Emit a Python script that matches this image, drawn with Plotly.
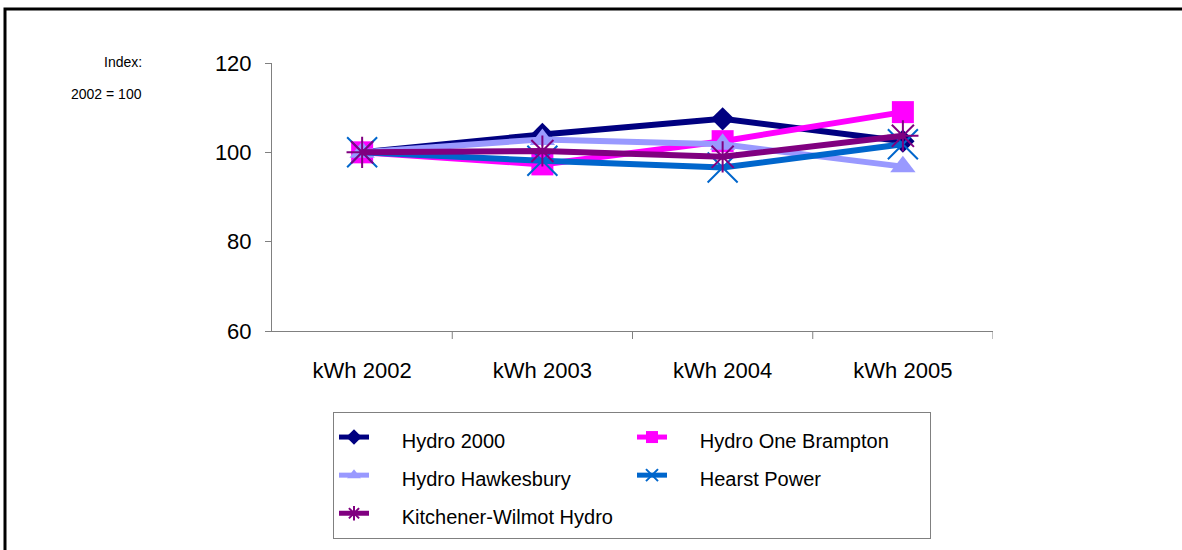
import plotly.graph_objects as go

# Index values per distributor, 2002 = 100
categories = ["kWh 2002", "kWh 2003", "kWh 2004", "kWh 2005"]
hydro_2000 = [100, 104.0, 107.5, 102.5]
hydro_one_brampton = [100, 97.3, 102.5, 109.0]
hydro_hawkesbury = [100, 102.9, 101.8, 96.8]
hearst_power = [100, 98.1, 96.6, 101.8]
kitchener_wilmot = [100, 100.3, 99.0, 103.7]
y_ticks = [60, 80, 100, 120]

series = [
    ("Hydro 2000", hydro_2000, "#000080", "diamond", 18, 0),
    ("Hydro One Brampton", hydro_one_brampton, "#FF00FF", "square", 22, 0),
    ("Hydro Hawkesbury", hydro_hawkesbury, "#9999FF", "triangle-up", 22, 0),
    ("Hearst Power", hearst_power, "#0066CC", "x-thin-open", 30, 2),
    ("Kitchener-Wilmot Hydro", kitchener_wilmot, "#800080", "asterisk-open", 26, 2),
]

fig = go.Figure()
for name, vals, color, symbol, size, lw in series:
    marker = dict(symbol=symbol, size=size, color=color)
    if lw:
        marker["line"] = dict(color=color, width=lw)
    fig.add_trace(go.Scatter(
        x=categories, y=vals, mode="lines+markers",
        name="<span style='font-size:20px'>\u00a0\u00a0\u00a0\u00a0\u00a0%s</span>" % name,
        line=dict(color=color, width=6), marker=marker,
    ))

W, H = 1182, 550
ml, mr, mt, mb = 272, 189, 63, 219
pw, ph = W - ml - mr, H - mt - mb


def px_x(p):
    return (p - ml) / pw


def px_y(p):
    return (H - mb - p) / ph


fig.update_layout(
    width=W, height=H,
    margin=dict(l=ml, r=mr, t=mt, b=mb),
    paper_bgcolor="white", plot_bgcolor="white",
    font=dict(family="Liberation Sans, Arial, sans-serif", color="black"),
    showlegend=True,
    legend=dict(
        orientation="h", xref="container", yref="container",
        x=333 / W, y=1 - 412 / H, xanchor="left", yanchor="top",
        bordercolor="#808080", borderwidth=1, bgcolor="white",
        font=dict(size=27), entrywidth=253, entrywidthmode="pixels",
        itemsizing="constant",
    ),
    xaxis=dict(
        range=[-0.5, 3.5], showgrid=False, zeroline=False, automargin=False,
        showline=True, linecolor="#808080", linewidth=1,
        ticks="outside", ticklen=0, tickfont=dict(size=22),
        ticklabelstandoff=20,
    ),
    yaxis=dict(
        range=[60, 120], tickvals=y_ticks, showgrid=False, zeroline=False,
        automargin=False,
        showline=True, linecolor="#808080", linewidth=1,
        ticks="outside", ticklen=6, tickcolor="#808080",
        tickfont=dict(size=22), ticklabelstandoff=9,
    ),
)

# category separators on the x axis
for b in [0.5, 1.5, 2.5, 3.5]:
    fig.add_shape(type="line", xref="x", yref="paper", x0=b, x1=b, y0=0, y1=-8 / ph,
                  line=dict(color="#808080", width=1))

# outer chart frame: one open path along the top and left edges
frame_path = "M {r},{t} L {l},{t} L {l},{b}".format(
    l=px_x(5), r=px_x(1200), t=px_y(9), b=px_y(600))
fig.add_shape(type="path", xref="paper", yref="paper", path=frame_path,
              line=dict(color="black", width=3))

fig.add_annotation(text="Index:", xref="paper", yref="paper", x=px_x(144), y=px_y(62),
                   xanchor="right", yanchor="middle", showarrow=False, font=dict(size=14))
fig.add_annotation(text="2002 = 100", xref="paper", yref="paper", x=px_x(144), y=px_y(94),
                   xanchor="right", yanchor="middle", showarrow=False, font=dict(size=14))

fig.write_html("out.html")
